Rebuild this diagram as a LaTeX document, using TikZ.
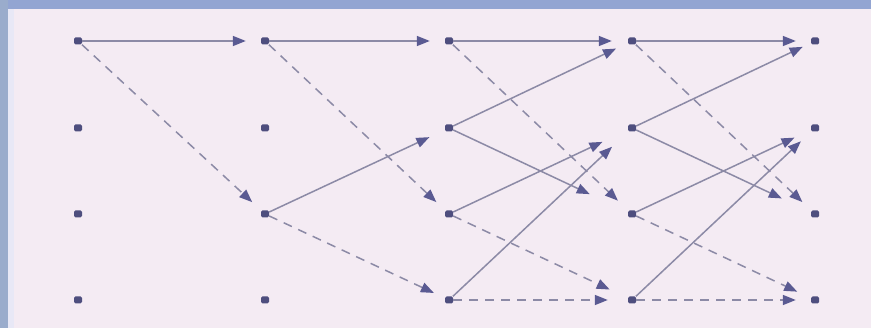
\documentclass[tikz,border=0pt]{standalone}
\usetikzlibrary{arrows.meta}
\definecolor{bgin}{HTML}{F4EBF3}
\definecolor{bandtop}{HTML}{93A5D2}
\definecolor{bandleft}{HTML}{9AACCC}
\definecolor{strip}{HTML}{E8E8F6}
\definecolor{dotc}{HTML}{4E4E7E}
\definecolor{linec}{HTML}{8C8AA6}
\definecolor{tipc}{HTML}{5A5A92}
\tikzset{
  st/.style={rectangle,rounded corners=1.5pt,fill=dotc,inner sep=0pt,minimum width=8pt,minimum height=7pt},
  edge/.style={draw=linec,line width=1.5pt,-{Triangle[length=13pt,width=10pt,color=tipc,fill=tipc]},shorten >=#1},
  edge/.default=14pt,
  dedge/.style={edge=#1,dash pattern=on 9pt off 7pt},
  dedge/.default=14pt
}
\begin{document}
\begin{tikzpicture}[x=1pt,y=-1pt]
\useasboundingbox (0,0) rectangle (871,328);
\fill[bgin] (0,0) rectangle (871,328);
\fill[bandtop] (0,0) rectangle (871,9);
\fill[bandleft] (0,0) rectangle (8,328);
\fill[strip] (8,9) rectangle (14,328);
% states
\foreach \c/\x in {0/78,1/265,2/449,3/632,4/815}{
  \foreach \r/\y in {0/41,1/128,2/214,3/300}{
    \node[st] (n\c\r) at (\x,\y) {};
  }
}
% stage 0
\draw[edge=15pt] (n00) -- (n10);
\draw[dedge=12pt] (n00) -- (n12);
% stage 1
\draw[edge=15pt] (n10) -- (n20);
\draw[dedge=12pt] (n10) -- (n22);
\draw[edge=17pt] (n12) -- (n21);
\draw[dedge=12pt] (n12) -- (n23);
% stage 2
\draw[edge=16pt] (n20) -- (n30);
\draw[dedge=14pt] (n20) -- (n32);
\draw[edge=13pt] (n21) -- (n30);
\draw[edge=42pt] (n21) -- (n32);
\draw[edge=28pt] (n22) -- (n31);
\draw[dedge=20pt] (n22) -- (n33);
\draw[edge=22pt] (n23) -- (n31);
\draw[dedge=20pt] (n23) -- (n33);
% stage 3
\draw[edge=15pt] (n30) -- (n40);
\draw[dedge=12pt] (n30) -- (n42);
\draw[edge=9pt] (n31) -- (n40);
\draw[edge=32pt] (n31) -- (n42);
\draw[edge=18pt] (n32) -- (n41);
\draw[dedge=15pt] (n32) -- (n43);
\draw[edge=14pt] (n33) -- (n41);
\draw[dedge=15pt] (n33) -- (n43);
\end{tikzpicture}
\end{document}
